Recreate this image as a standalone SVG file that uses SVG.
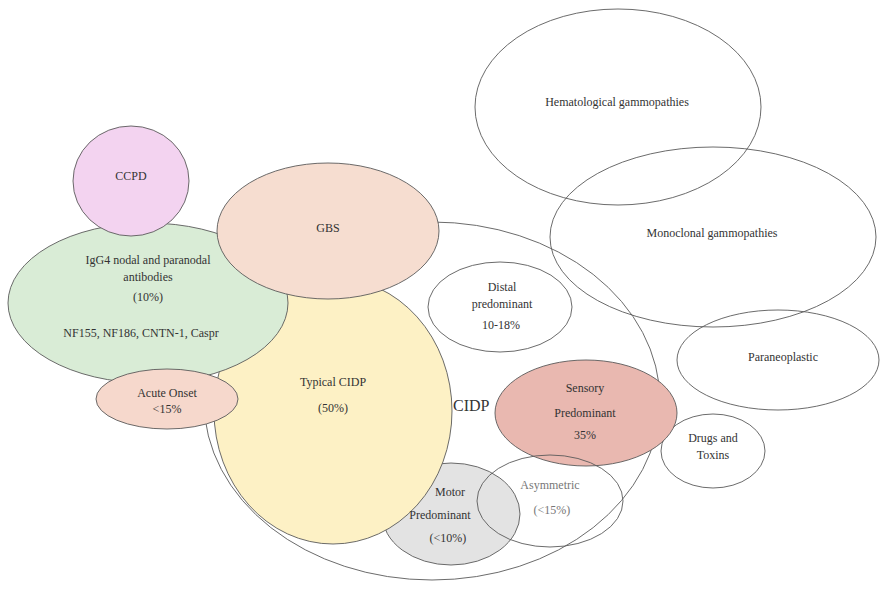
<svg xmlns="http://www.w3.org/2000/svg" width="880" height="595" viewBox="0 0 880 595" font-family="'Liberation Serif', 'DejaVu Serif', 'Times New Roman', serif">
<style>
.e{stroke:#5a5a5a;stroke-width:0.9}
.n{fill:none}
text{font-family:"Liberation Serif","DejaVu Serif","Times New Roman",serif;font-size:12px;fill:#333;text-anchor:middle}
.lt{fill:#777}
.big{font-size:16px;text-anchor:start}
</style>
<rect width="880" height="595" fill="#fff"/>
<g id="cidp">
<ellipse class="e n" cx="432" cy="401" rx="228" ry="179"/>
<text class="big" x="453" y="411">CIDP</text>
</g>
<g id="hematological">
<ellipse class="e n" cx="618" cy="107" rx="143" ry="98"/>
<text x="617" y="106">Hematological gammopathies</text>
</g>
<g id="monoclonal">
<ellipse class="e n" cx="713" cy="237" rx="163" ry="90"/>
<text x="712" y="237">Monoclonal gammopathies</text>
</g>
<g id="paraneoplastic">
<ellipse class="e n" cx="778" cy="360" rx="101" ry="50"/>
<text x="783" y="361">Paraneoplastic</text>
</g>
<g id="drugs">
<ellipse class="e" fill="#fff" cx="713" cy="451" rx="52" ry="37"/>
<text x="713" y="442">Drugs and</text>
<text x="713" y="459">Toxins</text>
</g>
<g id="distal">
<ellipse class="e" fill="#fff" cx="500" cy="307" rx="72" ry="45"/>
<text x="502" y="291">Distal</text>
<text x="502" y="308">predominant</text>
<text x="501" y="329">10-18%</text>
</g>
<g id="sensory">
<ellipse class="e" fill="#e9b8b0" cx="586" cy="413" rx="91" ry="53"/>
<text x="585" y="392">Sensory</text>
<text x="585" y="417">Predominant</text>
<text x="585" y="439">35%</text>
</g>
<g id="motor">
<ellipse class="e" fill="#e3e3e3" cx="451" cy="514" rx="69" ry="51"/>
</g>
<g id="asymmetric">
<ellipse class="e n" cx="550" cy="501" rx="73" ry="46"/>
<text class="lt" x="550" y="489">Asymmetric</text>
<text class="lt" x="552" y="514">(&lt;15%)</text>
</g>
<g id="typical">
<ellipse class="e" fill="#fdf1c5" cx="333" cy="411" rx="119" ry="133"/>
<text x="333" y="386">Typical CIDP</text>
<text x="333" y="412">(50%)</text>
</g>
<g id="motor-label">
<text x="450" y="496">Motor</text>
<text x="440" y="519">Predominant</text>
<text x="448" y="542">(&lt;10%)</text>
</g>
<g id="igg4">
<ellipse class="e" fill="#d9ecd6" cx="148" cy="303" rx="140" ry="80"/>
<text x="148" y="264">IgG4 nodal and paranodal</text>
<text x="148" y="281">antibodies</text>
<text x="148" y="301">(10%)</text>
<text x="141" y="337">NF155, NF186, CNTN-1, Caspr</text>
</g>
<g id="gbs">
<ellipse class="e" fill="#f6ddd0" cx="328" cy="231" rx="111" ry="68"/>
<text x="328" y="232">GBS</text>
</g>
<g id="ccpd">
<ellipse class="e" fill="#f3d3f0" cx="131" cy="181" rx="58" ry="55"/>
<text x="131" y="180">CCPD</text>
</g>
<g id="acute">
<ellipse class="e" fill="#f6d8cc" cx="167" cy="399" rx="71" ry="30"/>
<text x="167" y="397">Acute Onset</text>
<text x="167" y="413">&lt;15%</text>
</g>
<g id="connectors"></g>
</svg>
